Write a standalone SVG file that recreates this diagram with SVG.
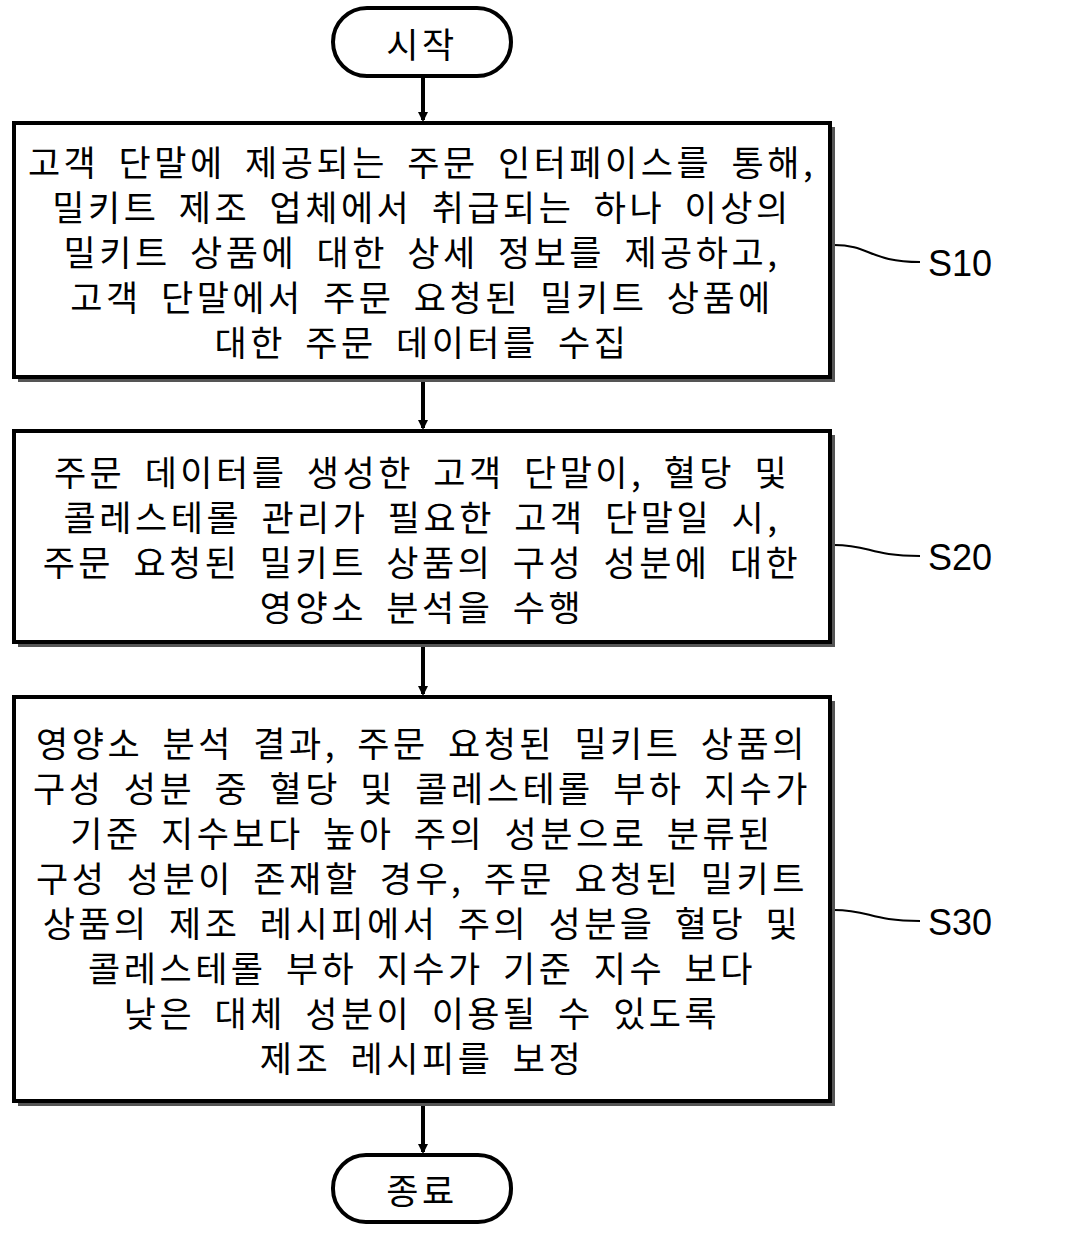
<svg xmlns="http://www.w3.org/2000/svg" width="1065" height="1246" viewBox="0 0 1065 1246">
<style>
.box{fill:#fff;stroke:#000;stroke-width:4}
.sh{fill:none;stroke:#555;stroke-width:4}
.t{font-family:"Noto Sans CJK KR","Noto Sans",sans-serif;font-size:35px;letter-spacing:3.5px;word-spacing:8px;text-anchor:middle;dominant-baseline:central;fill:#000}
.lab{font-family:"Liberation Sans",sans-serif;font-size:36px;fill:#000;dominant-baseline:central}
.ln{fill:none;stroke:#000;stroke-width:2}
.ar{stroke:#000;stroke-width:4;fill:none}
</style>
<defs><marker id="ah" markerWidth="10" markerHeight="10" refX="8" refY="5" orient="auto" markerUnits="userSpaceOnUse"><path d="M0,0 L10,5 L0,10 z" fill="#000"/></marker></defs>
<rect width="1065" height="1246" fill="#fff"/>
<g id="connectors">
<line class="ar" x1="423" y1="77" x2="423" y2="120" marker-end="url(#ah)"/>
<line class="ar" x1="423" y1="380" x2="423" y2="428" marker-end="url(#ah)"/>
<line class="ar" x1="423" y1="645" x2="423" y2="694" marker-end="url(#ah)"/>
<line class="ar" x1="423" y1="1104" x2="423" y2="1152" marker-end="url(#ah)"/>
<path class="ln" d="M834,245 C870,245 870,262 920,262"/>
<path class="ln" d="M834,545 C870,545 870,556 920,556"/>
<path class="ln" d="M834,910 C870,910 870,921 920,921"/>
</g>
<g id="start"><rect class="box" x="333" y="8" width="178" height="68" rx="34"/><text class="t" x="422" y="42">시작</text></g>
<g id="s10">
<path class="sh" d="M833,127 V380 H18"/>
<rect class="box" x="14" y="123" width="816" height="254"/>
<text class="t" x="422" y="160">고객 단말에 제공되는 주문 인터페이스를 통해,</text>
<text class="t" x="422" y="205">밀키트 제조 업체에서 취급되는 하나 이상의</text>
<text class="t" x="422" y="250">밀키트 상품에 대한 상세 정보를 제공하고,</text>
<text class="t" x="422" y="295">고객 단말에서 주문 요청된 밀키트 상품에</text>
<text class="t" x="422" y="340">대한 주문 데이터를 수집</text>
<text class="lab" x="928" y="263">S10</text>
</g>
<g id="s20">
<path class="sh" d="M833,435 V645 H18"/>
<rect class="box" x="14" y="431" width="816" height="211"/>
<text class="t" x="422" y="470">주문 데이터를 생성한 고객 단말이, 혈당 및</text>
<text class="t" x="422" y="515">콜레스테롤 관리가 필요한 고객 단말일 시,</text>
<text class="t" x="422" y="560">주문 요청된 밀키트 상품의 구성 성분에 대한</text>
<text class="t" x="422" y="605">영양소 분석을 수행</text>
<text class="lab" x="928" y="557">S20</text>
</g>
<g id="s30">
<path class="sh" d="M833,701 V1104 H18"/>
<rect class="box" x="14" y="697" width="816" height="404"/>
<text class="t" x="422" y="741">영양소 분석 결과, 주문 요청된 밀키트 상품의</text>
<text class="t" x="422" y="786">구성 성분 중 혈당 및 콜레스테롤 부하 지수가</text>
<text class="t" x="422" y="831">기준 지수보다 높아 주의 성분으로 분류된</text>
<text class="t" x="422" y="876">구성 성분이 존재할 경우, 주문 요청된 밀키트</text>
<text class="t" x="422" y="921">상품의 제조 레시피에서 주의 성분을 혈당 및</text>
<text class="t" x="422" y="966">콜레스테롤 부하 지수가 기준 지수 보다</text>
<text class="t" x="422" y="1011">낮은 대체 성분이 이용될 수 있도록</text>
<text class="t" x="422" y="1056">제조 레시피를 보정</text>
<text class="lab" x="928" y="922">S30</text>
</g>
<g id="end"><rect class="box" x="333" y="1155" width="178" height="67" rx="33"/><text class="t" x="422" y="1188">종료</text></g>
</svg>
